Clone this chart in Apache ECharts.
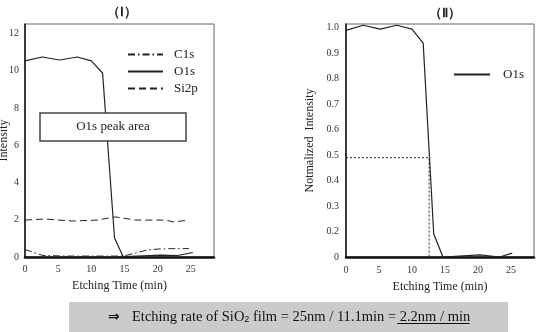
<!DOCTYPE html>
<html>
<head>
<meta charset="utf-8">
<script src="https://cdn.jsdelivr.net/npm/echarts@6/dist/echarts.min.js"></script>
<style>
  html, body { margin: 0; padding: 0; background: #fff; }
  #main { width: 537px; height: 332px; }
</style>
</head>
<body>
<div id="main"></div>
<script>
// (I) raw intensities
var c1sTime = [0, 2.7, 6.4, 11.4, 14.8, 18.5, 20.2, 22.4, 24.7];
var c1sValue = [0.4, 0.08, 0.05, 0.05, 0.05, 0.38, 0.43, 0.45, 0.45];
var o1sTime = [0, 2.6, 5.2, 7.9, 10, 11.7, 13.5, 14.8, 17, 20.5, 23, 25.3];
var o1sValue = [10.52, 10.73, 10.57, 10.73, 10.52, 9.87, 1.02, 0.02, 0.05, 0.1, 0.08, 0.24];
var si2pTime = [0, 3, 7.1, 10.9, 13.6, 16.7, 21.2, 22.4, 24.7];
var si2pValue = [1.98, 2.04, 1.93, 1.98, 2.15, 1.98, 1.98, 1.88, 1.98];

// (II) normalized O1s
var normTime = [0, 2.6, 5.2, 7.7, 10, 11.7, 13.3, 14.7, 20.3, 23.3, 25.2];
var normValue = [0.99, 1.01, 0.995, 1.01, 0.995, 0.94, 0.19, 0.1, 0.108, 0.1, 0.115];
var guideTime = [0, 12.6, 12.6];
var guideValue = [0.49, 0.49, 0.1];

var rateHead = 'Etching rate of SiO';
var rateMid = ' film = 25nm / 11.1min = ';
var rateResult = '2.2nm / min';

function pairs(xs, ys) {
  return xs.map(function (x, i) { return [x, ys[i]]; });
}

var serif = 'Liberation Serif';
var ink = '#222';
var noteSize = 14.5;

// width of the text before the underlined part
var cv = document.createElement('canvas').getContext('2d');
cv.font = noteSize + 'px "Liberation Serif"';
var headW = cv.measureText(rateHead).width + cv.measureText(rateMid).width;
var resultW = cv.measureText(rateResult).width;
cv.font = '9px "Liberation Serif"';
headW += cv.measureText('2').width;
var textX = 132;

var myChart = echarts.init(document.getElementById('main'));
myChart.setOption({
  animation: false,
  textStyle: {fontFamily: serif},
  title: [
    {text: '（Ⅰ）', left: 117, top: 1, textAlign: 'center',
      textStyle: {fontSize: 13, fontWeight: 'bold', color: ink, fontFamily: serif}},
    {text: '（Ⅱ）', left: 440, top: 2, textAlign: 'center',
      textStyle: {fontSize: 13, fontWeight: 'bold', color: ink, fontFamily: serif}}
  ],
  legend: [
    {
      data: ['C1s', 'O1s', 'Si2p'],
      orient: 'vertical', left: 122, top: 43,
      itemWidth: 35, itemHeight: 14, itemGap: 4,
      itemStyle: {opacity: 0},
      textStyle: {fontSize: 13, color: ink, fontFamily: serif, padding: [0, 0, 0, 6]}
    },
    {
      data: ['O1s'],
      left: 448, top: 63,
      itemWidth: 36, itemHeight: 14,
      itemStyle: {opacity: 0},
      textStyle: {fontSize: 13, color: ink, fontFamily: serif, padding: [0, 0, 0, 8]}
    }
  ],
  grid: [
    {left: 25, top: 24, width: 189, height: 233, show: true, borderColor: '#666', borderWidth: 1,
      outerBoundsMode: 'none'},
    {left: 346, top: 24, width: 188, height: 233, show: true, borderColor: '#666', borderWidth: 1,
      outerBoundsMode: 'none'}
  ],
  xAxis: [
    {
      gridIndex: 0, type: 'value', min: 0, max: 28.5, interval: 5,
      name: 'Etching Time (min)', nameLocation: 'middle', nameGap: 23,
      nameTextStyle: {fontSize: 12, color: ink, fontFamily: serif},
      axisLine: {lineStyle: {color: '#111', width: 2.5}},
      axisTick: {show: false}, splitLine: {show: false},
      axisLabel: {fontSize: 10, color: '#333', margin: 7, showMaxLabel: false}
    },
    {
      gridIndex: 1, type: 'value', min: 0, max: 28.5, interval: 5,
      name: 'Etching Time (min)', nameLocation: 'middle', nameGap: 24,
      nameTextStyle: {fontSize: 12, color: ink, fontFamily: serif},
      axisLine: {lineStyle: {color: '#111', width: 2.5}},
      axisTick: {show: false}, splitLine: {show: false},
      axisLabel: {fontSize: 10, color: '#333', margin: 8, showMaxLabel: false}
    }
  ],
  yAxis: [
    {
      gridIndex: 0, type: 'value', min: 0, max: 12.5, interval: 2,
      name: 'Intensity', nameLocation: 'middle', nameGap: 15, nameMoveOverlap: false,
      nameTextStyle: {fontSize: 12, color: ink, fontFamily: serif},
      axisLine: {show: true, lineStyle: {color: '#111', width: 1.5}},
      axisTick: {show: false}, splitLine: {show: false},
      axisLabel: {fontSize: 10, color: '#333', margin: 6, showMaxLabel: false}
    },
    {
      gridIndex: 1, type: 'value', min: 0.1, max: 1.015, interval: 0.1,
      name: 'Notmalized  Intensity', nameLocation: 'middle', nameGap: 30, nameMoveOverlap: false,
      nameTextStyle: {fontSize: 12, color: ink, fontFamily: serif},
      axisLine: {show: true, lineStyle: {color: '#111', width: 1.5}},
      axisTick: {show: false}, splitLine: {show: false},
      axisLabel: {
        fontSize: 10, color: '#333', margin: 7, showMaxLabel: false,
        formatter: function (v) { return v < 0.15 ? '0' : v.toFixed(1); }
      }
    }
  ],
  series: [
    {
      name: 'C1s', type: 'line', xAxisIndex: 0, yAxisIndex: 0,
      data: pairs(c1sTime, c1sValue), symbol: 'none',
      itemStyle: {color: ink},
      lineStyle: {color: ink, width: 1, type: [7, 3, 1.5, 3]}
    },
    {
      name: 'O1s', type: 'line', xAxisIndex: 0, yAxisIndex: 0,
      data: pairs(o1sTime, o1sValue), symbol: 'none',
      itemStyle: {color: ink},
      lineStyle: {color: ink, width: 1.2}
    },
    {
      name: 'Si2p', type: 'line', xAxisIndex: 0, yAxisIndex: 0,
      data: pairs(si2pTime, si2pValue), symbol: 'none',
      itemStyle: {color: ink},
      lineStyle: {color: ink, width: 1, type: [7, 4]}
    },
    {
      name: 'O1s', type: 'line', xAxisIndex: 1, yAxisIndex: 1,
      data: pairs(normTime, normValue), symbol: 'none',
      itemStyle: {color: ink},
      lineStyle: {color: ink, width: 1.2}
    },
    {
      name: 'guide', type: 'line', xAxisIndex: 1, yAxisIndex: 1,
      data: pairs(guideTime, guideValue), symbol: 'none',
      itemStyle: {color: ink},
      lineStyle: {color: ink, width: 1, type: [2, 2]}
    }
  ],
  graphic: [
    {
      type: 'rect', x: 40, y: 113, z: 100,
      shape: {width: 146, height: 28},
      style: {fill: '#fff', stroke: '#444', lineWidth: 1.5}
    },
    {
      type: 'text', x: 113, y: 127, z: 101,
      style: {text: 'O1s peak area', font: '13px "Liberation Serif"', fill: ink,
        textAlign: 'center', textVerticalAlign: 'middle'}
    },
    {
      type: 'rect', x: 69, y: 302, z: 100,
      shape: {width: 439, height: 30},
      style: {fill: '#cbcbcb'}
    },
    {
      type: 'text', x: 108, y: 317, z: 101,
      style: {text: '⇒', font: 'bold 14px "DejaVu Sans"', fill: '#111', textVerticalAlign: 'middle'}
    },
    {
      type: 'text', x: textX, y: 317, z: 101,
      style: {
        textVerticalAlign: 'middle',
        text: rateHead + '{s|2}' + rateMid + rateResult,
        font: noteSize + 'px "Liberation Serif"', fill: '#111',
        rich: {
          s: {fontSize: 9, verticalAlign: 'bottom', lineHeight: 9}
        }
      }
    },
    {
      type: 'line', z: 101,
      shape: {x1: textX + headW - 2, y1: 323.5, x2: textX + headW + resultW, y2: 323.5},
      style: {stroke: '#111', lineWidth: 1}
    }
  ]
});
</script>
</body>
</html>
